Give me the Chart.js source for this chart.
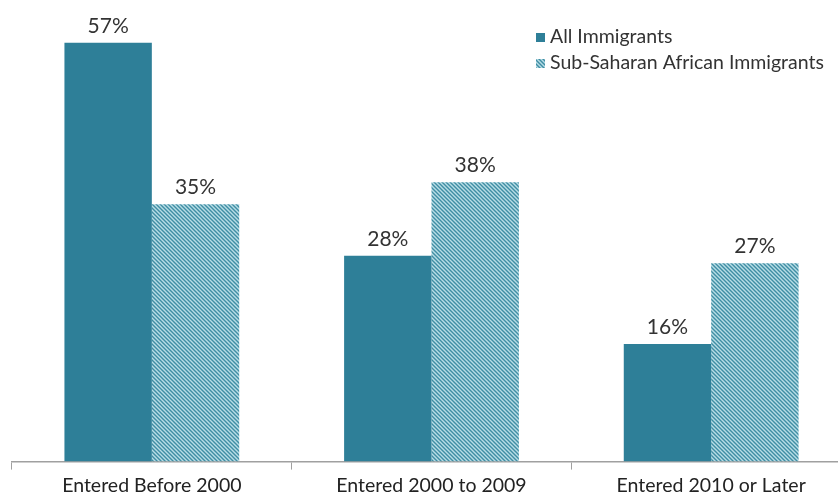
<!DOCTYPE html>
<html>
<head>
<meta charset="utf-8">
<script src="https://cdn.jsdelivr.net/npm/chart.js@4"></script>
<style>
  html, body { margin: 0; padding: 0; background: #fff; }
  /* the last category runs slightly past the right edge */
  #wrap { position: relative; width: 838px; height: 497px; overflow: hidden; }
</style>
</head>
<body>
<div id="wrap"><canvas id="chart" width="851" height="497"></canvas></div>
<script>
const categories = ['Entered Before 2000', 'Entered 2000 to 2009', 'Entered 2010 or Later'];
const allImmigrants = [57, 28, 16];
const subSaharan = [35, 38, 27];
const seriesNames = ['All Immigrants', 'Sub-Saharan African Immigrants'];

const teal = '#2e7f98';

// diagonal hatch fill for the second series
function makeHatch() {
  const c = document.createElement('canvas');
  c.width = 4; c.height = 4;
  const g = c.getContext('2d');
  g.fillStyle = '#b8dde6';
  g.fillRect(0, 0, 4, 4);
  g.strokeStyle = '#3f8ea4';
  g.lineWidth = 1.4;
  g.beginPath();
  g.moveTo(-1, -1); g.lineTo(5, 5);
  g.moveTo(-1, 3); g.lineTo(1, 5);
  g.moveTo(3, -1); g.lineTo(5, 1);
  g.stroke();
  return g.createPattern(c, 'repeat');
}
const hatch = makeHatch();

const valueLabels = {
  id: 'valueLabels',
  afterDatasetsDraw(chart) {
    const ctx = chart.ctx;
    ctx.save();
    ctx.font = '21px Lato';
    ctx.fillStyle = '#333';
    ctx.textAlign = 'center';
    ctx.textBaseline = 'alphabetic';
    chart.data.datasets.forEach((ds, i) => {
      chart.getDatasetMeta(i).data.forEach((bar, j) => {
        ctx.fillText(ds.data[j] + '%', bar.x, bar.y - 10);
      });
    });
    ctx.restore();
  }
};

// legend drawn inside the plot, top right
const cornerLegend = {
  id: 'cornerLegend',
  afterDraw(chart) {
    const ctx = chart.ctx;
    const x = 536, y0 = 37, gap = 26;
    ctx.save();
    ctx.font = '19.5px Lato';
    ctx.textBaseline = 'middle';
    chart.data.datasets.forEach((ds, i) => {
      const y = y0 + i * gap;
      ctx.fillStyle = ds.backgroundColor;
      ctx.fillRect(x, y - 4, 9, 9);
      ctx.fillStyle = '#333';
      ctx.fillText(seriesNames[i], x + 14, y);
    });
    ctx.restore();
  }
};

new Chart(document.getElementById('chart'), {
  type: 'bar',
  data: {
    labels: categories,
    datasets: [
      { label: seriesNames[0], data: allImmigrants, backgroundColor: teal },
      { label: seriesNames[1], data: subSaharan, backgroundColor: hatch }
    ]
  },
  options: {
    responsive: false,
    animation: false,
    layout: { padding: { left: 12, right: 0, top: 0, bottom: -4 } },
    datasets: { bar: { categoryPercentage: 0.625, barPercentage: 1 } },
    plugins: { legend: { display: false }, tooltip: { enabled: false } },
    scales: {
      x: {
        offset: true,
        grid: { display: true, drawOnChartArea: false, offset: true, tickLength: 8, color: '#a0a0a0' },
        border: { color: '#a0a0a0', width: 1.5 },
        ticks: { font: { family: 'Lato', size: 19.5 }, color: '#222', padding: 4 }
      },
      y: {
        display: false,
        min: 0,
        max: 62.8
      }
    }
  },
  plugins: [valueLabels, cornerLegend]
});
</script>
</body>
</html>
